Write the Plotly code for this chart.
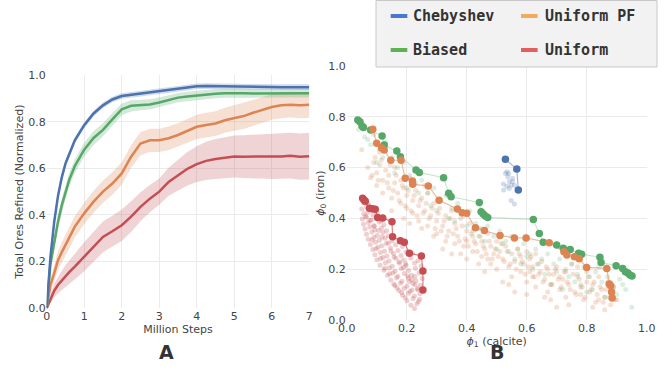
import plotly.graph_objects as go

# ---------------- Panel A data ----------------
steps = [0, 0.1, 0.2, 0.3, 0.4, 0.5, 0.6, 0.75, 1.0, 1.25, 1.5, 1.75, 2.0, 2.25, 2.5, 2.75,
         3.0, 3.25, 3.5, 3.75, 4.0, 4.25, 4.5, 4.75, 5.0, 5.25, 5.5, 5.75, 6.0, 6.25, 6.5, 6.75, 7.0]
cheb = [0, 0.22, 0.37, 0.48, 0.56, 0.62, 0.66, 0.72, 0.785, 0.835, 0.87, 0.895, 0.91, 0.915, 0.92,
        0.925, 0.93, 0.935, 0.94, 0.946, 0.952, 0.953, 0.952, 0.951, 0.95, 0.95, 0.95, 0.949, 0.949,
        0.948, 0.948, 0.948, 0.948]
cheb_sd = [0, 0.02, 0.02, 0.02, 0.018, 0.016, 0.015, 0.014, 0.013, 0.012, 0.012, 0.012, 0.012, 0.012,
           0.012, 0.012, 0.012, 0.012, 0.012, 0.012, 0.012, 0.012, 0.012, 0.012, 0.012, 0.012, 0.012,
           0.012, 0.012, 0.012, 0.012, 0.012, 0.012]
biased = [0, 0.19, 0.28, 0.37, 0.44, 0.50, 0.55, 0.61, 0.68, 0.73, 0.765, 0.81, 0.853, 0.868, 0.872,
          0.874, 0.882, 0.893, 0.903, 0.908, 0.913, 0.917, 0.92, 0.922, 0.923, 0.922, 0.921, 0.921,
          0.922, 0.922, 0.921, 0.921, 0.922]
biased_sd = [0, 0.03, 0.03, 0.03, 0.03, 0.03, 0.03, 0.03, 0.03, 0.03, 0.028, 0.027, 0.025, 0.024, 0.023,
             0.022, 0.022, 0.021, 0.02, 0.02, 0.02, 0.02, 0.02, 0.019, 0.019, 0.019, 0.019, 0.019,
             0.018, 0.018, 0.018, 0.018, 0.018]
unif_pf = [0, 0.10, 0.15, 0.205, 0.24, 0.27, 0.30, 0.35, 0.407, 0.457, 0.50, 0.535, 0.578, 0.65, 0.706,
           0.72, 0.72, 0.729, 0.743, 0.761, 0.778, 0.786, 0.792, 0.806, 0.816, 0.824, 0.838, 0.85,
           0.863, 0.87, 0.873, 0.87, 0.872]
unif_pf_sd = [0, 0.03, 0.035, 0.04, 0.042, 0.044, 0.045, 0.046, 0.046, 0.047, 0.048, 0.048, 0.048, 0.049,
              0.05, 0.05, 0.05, 0.05, 0.05, 0.051, 0.052, 0.052, 0.053, 0.054, 0.055, 0.055, 0.055,
              0.055, 0.055, 0.055, 0.055, 0.055, 0.055]
uniform = [0, 0.04, 0.075, 0.10, 0.12, 0.139, 0.155, 0.179, 0.221, 0.264, 0.306, 0.33, 0.356, 0.393,
           0.435, 0.47, 0.50, 0.542, 0.571, 0.598, 0.618, 0.632, 0.64, 0.647, 0.651, 0.65, 0.65, 0.651,
           0.65, 0.651, 0.654, 0.65, 0.652]
uniform_sd = [0, 0.02, 0.03, 0.035, 0.04, 0.045, 0.05, 0.055, 0.062, 0.065, 0.066, 0.067, 0.068, 0.066,
              0.062, 0.058, 0.056, 0.06, 0.066, 0.072, 0.077, 0.082, 0.086, 0.088, 0.09, 0.092, 0.094,
              0.095, 0.096, 0.097, 0.098, 0.099, 0.1]

# ---------------- Panel B data ----------------
# Pareto fronts (large markers)
cheb_front_x = [0.529, 0.567, 0.572]
cheb_front_y = [0.633, 0.594, 0.512]
biased_front_x = [0.037, 0.044, 0.051, 0.056, 0.080, 0.118, 0.125, 0.167, 0.179, 0.231, 0.242, 0.323,
                  0.340, 0.348, 0.442, 0.448, 0.455, 0.462, 0.470, 0.622, 0.642, 0.655, 0.700, 0.722,
                  0.745, 0.773, 0.783, 0.844, 0.848, 0.898, 0.920, 0.929, 0.937, 0.944, 0.951]
biased_front_y = [0.787, 0.781, 0.764, 0.758, 0.748, 0.724, 0.689, 0.665, 0.643, 0.591, 0.581, 0.560,
                  0.499, 0.485, 0.463, 0.426, 0.417, 0.409, 0.404, 0.396, 0.341, 0.306, 0.295, 0.282,
                  0.278, 0.263, 0.259, 0.247, 0.226, 0.214, 0.203, 0.190, 0.185, 0.177, 0.173]
unifpf_front_x = [0.087, 0.100, 0.116, 0.125, 0.147, 0.181, 0.195, 0.219, 0.220, 0.272, 0.308, 0.369,
                  0.385, 0.400, 0.429, 0.459, 0.511, 0.559, 0.598, 0.675, 0.724, 0.734, 0.759, 0.775,
                  0.800, 0.867, 0.875, 0.880, 0.883, 0.885]
unifpf_front_y = [0.751, 0.696, 0.678, 0.669, 0.629, 0.629, 0.558, 0.547, 0.534, 0.528, 0.471, 0.437,
                  0.422, 0.420, 0.363, 0.352, 0.333, 0.323, 0.323, 0.304, 0.269, 0.256, 0.249, 0.241,
                  0.207, 0.203, 0.142, 0.135, 0.110, 0.087]
unif_front_x = [0.053, 0.058, 0.062, 0.076, 0.086, 0.095, 0.103, 0.120, 0.151, 0.153, 0.179, 0.192,
                0.209, 0.249, 0.254, 0.254]
unif_front_y = [0.479, 0.472, 0.468, 0.440, 0.438, 0.436, 0.404, 0.402, 0.387, 0.328, 0.312, 0.306,
                0.263, 0.252, 0.193, 0.118]

# Sampled policies (faint markers)
cheb_pts_x = [0.534, 0.540, 0.529, 0.537, 0.553, 0.542, 0.522, 0.548, 0.559, 0.534, 0.523, 0.542,
              0.548, 0.559, 0.553]
cheb_pts_y = [0.584, 0.577, 0.577, 0.564, 0.545, 0.545, 0.535, 0.531, 0.531, 0.527, 0.512, 0.518,
              0.470, 0.457, 0.558]
biased_pts_x = [0.04, 0.06, 0.08, 0.09, 0.11, 0.13, 0.15, 0.17, 0.19, 0.21, 0.23, 0.25, 0.27, 0.29,
                0.31, 0.33, 0.35, 0.37, 0.39, 0.41, 0.43, 0.45, 0.47, 0.49, 0.51, 0.53, 0.55, 0.57,
                0.59, 0.61, 0.63, 0.65, 0.67, 0.69, 0.71, 0.73, 0.75, 0.77, 0.79, 0.81, 0.83, 0.85,
                0.87, 0.89, 0.91, 0.93, 0.95, 0.10, 0.20, 0.40, 0.56, 0.62, 0.72, 0.80, 0.86, 0.90,
                0.50, 0.30, 0.46, 0.66, 0.76, 0.84, 0.58, 0.68, 0.07, 0.12, 0.16, 0.24, 0.28, 0.34,
                0.38, 0.44, 0.52, 0.54, 0.60, 0.64, 0.70, 0.74, 0.78, 0.82, 0.88, 0.92, 0.36, 0.42]
biased_pts_y = [0.75, 0.72, 0.69, 0.73, 0.67, 0.70, 0.64, 0.60, 0.62, 0.57, 0.54, 0.55, 0.50, 0.52,
                0.47, 0.49, 0.44, 0.46, 0.41, 0.43, 0.38, 0.36, 0.37, 0.33, 0.35, 0.31, 0.33, 0.28,
                0.30, 0.26, 0.28, 0.24, 0.26, 0.22, 0.24, 0.20, 0.22, 0.18, 0.21, 0.17, 0.19, 0.15,
                0.17, 0.13, 0.16, 0.12, 0.05, 0.62, 0.52, 0.37, 0.24, 0.20, 0.12, 0.11, 0.09, 0.10,
                0.28, 0.43, 0.31, 0.18, 0.15, 0.21, 0.22, 0.14, 0.71, 0.64, 0.58, 0.50, 0.45, 0.40,
                0.42, 0.33, 0.30, 0.27, 0.25, 0.22, 0.19, 0.17, 0.14, 0.12, 0.15, 0.14, 0.39, 0.35]
unifpf_pts_x = [0.07, 0.08, 0.09, 0.10, 0.10, 0.11, 0.12, 0.12, 0.13, 0.14, 0.14, 0.15, 0.16, 0.16,
                0.17, 0.18, 0.18, 0.19, 0.20, 0.20, 0.21, 0.22, 0.22, 0.23, 0.24, 0.24, 0.25, 0.26,
                0.27, 0.27, 0.28, 0.29, 0.30, 0.30, 0.31, 0.32, 0.33, 0.33, 0.34, 0.35, 0.36, 0.36,
                0.37, 0.38, 0.39, 0.40, 0.40, 0.41, 0.42, 0.42, 0.43, 0.44, 0.45, 0.45, 0.46, 0.47,
                0.48, 0.48, 0.49, 0.50, 0.50, 0.51, 0.52, 0.53, 0.54, 0.55, 0.55, 0.56, 0.57, 0.58,
                0.58, 0.59, 0.60, 0.61, 0.61, 0.62, 0.63, 0.64, 0.65, 0.66, 0.67, 0.67, 0.68, 0.69,
                0.70, 0.71, 0.72, 0.73, 0.73, 0.74, 0.75, 0.76, 0.77, 0.78, 0.79, 0.80, 0.80, 0.81,
                0.82, 0.83, 0.84, 0.85, 0.86, 0.87, 0.88, 0.88, 0.89, 0.90, 0.05, 0.11, 0.26, 0.35,
                0.52, 0.68, 0.29, 0.44, 0.56, 0.60, 0.21, 0.15, 0.60, 0.66, 0.74, 0.82, 0.70, 0.86,
                0.78, 0.62, 0.54, 0.46, 0.38, 0.32, 0.40, 0.47, 0.63, 0.71, 0.77, 0.84, 0.25, 0.19,
                0.085, 0.095, 0.105, 0.115, 0.135, 0.145, 0.155, 0.165, 0.175, 0.185, 0.195, 0.205,
                0.215, 0.225, 0.235, 0.245, 0.255, 0.265, 0.275, 0.285, 0.295, 0.305, 0.315, 0.325,
                0.335, 0.345, 0.355, 0.365, 0.375, 0.385, 0.395, 0.405, 0.415, 0.425, 0.435, 0.445,
                0.455, 0.465, 0.475, 0.485, 0.495, 0.505, 0.515, 0.525, 0.535, 0.545, 0.565, 0.575,
                0.585, 0.595, 0.605, 0.615, 0.625, 0.635, 0.645, 0.655, 0.665, 0.675, 0.685, 0.695,
                0.705, 0.715, 0.725, 0.735, 0.745, 0.755, 0.765, 0.775, 0.785, 0.795, 0.805, 0.815,
                0.825, 0.835, 0.845, 0.855, 0.865, 0.875, 0.885, 0.895]
unifpf_pts_y = [0.60, 0.56, 0.62, 0.58, 0.53, 0.61, 0.55, 0.50, 0.59, 0.52, 0.57, 0.48, 0.54, 0.60,
                0.50, 0.46, 0.55, 0.52, 0.44, 0.49, 0.56, 0.47, 0.42, 0.51, 0.45, 0.39, 0.48, 0.43,
                0.50, 0.37, 0.41, 0.46, 0.39, 0.34, 0.44, 0.37, 0.41, 0.31, 0.35, 0.43, 0.38, 0.30,
                0.33, 0.40, 0.29, 0.35, 0.31, 0.38, 0.27, 0.33, 0.30, 0.36, 0.25, 0.31, 0.28, 0.34,
                0.22, 0.29, 0.26, 0.31, 0.20, 0.27, 0.24, 0.29, 0.21, 0.26, 0.17, 0.23, 0.28, 0.19,
                0.25, 0.22, 0.15, 0.24, 0.19, 0.21, 0.13, 0.18, 0.23, 0.16, 0.20, 0.11, 0.14, 0.18,
                0.21, 0.12, 0.16, 0.09, 0.19, 0.14, 0.22, 0.11, 0.17, 0.13, 0.08, 0.15, 0.19, 0.11,
                0.14, 0.07, 0.17, 0.12, 0.09, 0.15, 0.06, 0.11, 0.13, 0.08, 0.67, 0.66, 0.53, 0.26,
                0.15, 0.08, 0.33, 0.22, 0.11, 0.27, 0.38, 0.43, 0.10, 0.09, 0.06, 0.05, 0.05, 0.04,
                0.10, 0.17, 0.14, 0.19, 0.26, 0.28, 0.24, 0.24, 0.26, 0.17, 0.21, 0.08, 0.36, 0.40,
                0.57, 0.64, 0.55, 0.63, 0.54, 0.61, 0.51, 0.57, 0.47, 0.53, 0.45, 0.51, 0.43, 0.49,
                0.41, 0.47, 0.42, 0.46, 0.40, 0.44, 0.36, 0.42, 0.35, 0.39, 0.33, 0.40, 0.34, 0.36,
                0.31, 0.37, 0.32, 0.29, 0.34, 0.31, 0.27, 0.33, 0.29, 0.26, 0.31, 0.24, 0.28, 0.25,
                0.30, 0.23, 0.27, 0.22, 0.20, 0.26, 0.23, 0.18, 0.21, 0.25, 0.17, 0.22, 0.19, 0.15,
                0.21, 0.18, 0.14, 0.20, 0.16, 0.13, 0.19, 0.15, 0.12, 0.18, 0.10, 0.16, 0.13, 0.09,
                0.17, 0.12, 0.15, 0.10, 0.13, 0.07, 0.12, 0.09, 0.10, 0.08]
unif_pts_x = [0.055, 0.072, 0.050, 0.066, 0.081, 0.057, 0.071, 0.088, 0.101, 0.052, 0.066, 0.082,
              0.099, 0.114, 0.056, 0.072, 0.091, 0.108, 0.124, 0.061, 0.077, 0.094, 0.116, 0.133,
              0.066, 0.084, 0.102, 0.121, 0.139, 0.072, 0.091, 0.109, 0.128, 0.151, 0.079, 0.096,
              0.117, 0.139, 0.163, 0.186, 0.087, 0.104, 0.126, 0.146, 0.171, 0.198, 0.094, 0.112,
              0.134, 0.156, 0.181, 0.219, 0.101, 0.121, 0.141, 0.164, 0.189, 0.214, 0.238, 0.111,
              0.129, 0.152, 0.176, 0.198, 0.226, 0.248, 0.124, 0.142, 0.161, 0.182, 0.206, 0.229,
              0.251, 0.136, 0.154, 0.171, 0.192, 0.216, 0.241, 0.147, 0.166, 0.184, 0.206, 0.231,
              0.252, 0.161, 0.179, 0.201, 0.221, 0.246, 0.174, 0.191, 0.211, 0.236, 0.186, 0.206,
              0.226, 0.244, 0.201, 0.221, 0.239, 0.214, 0.234, 0.226,
              0.063, 0.078, 0.092, 0.107, 0.085, 0.118, 0.132, 0.098, 0.147, 0.158, 0.113, 0.174,
              0.127, 0.189, 0.143, 0.203, 0.157, 0.217, 0.168, 0.228, 0.183, 0.237, 0.195, 0.243,
              0.209, 0.227, 0.218, 0.196]
unif_pts_y = [0.462, 0.455, 0.437, 0.446, 0.432, 0.418, 0.424, 0.413, 0.421, 0.398, 0.405, 0.394,
              0.402, 0.391, 0.377, 0.384, 0.372, 0.386, 0.375, 0.358, 0.366, 0.354, 0.362, 0.351,
              0.338, 0.346, 0.333, 0.344, 0.332, 0.318, 0.326, 0.314, 0.322, 0.311, 0.297, 0.306,
              0.292, 0.303, 0.296, 0.289, 0.278, 0.286, 0.271, 0.283, 0.274, 0.268, 0.257, 0.266,
              0.252, 0.262, 0.254, 0.263, 0.237, 0.246, 0.232, 0.243, 0.236, 0.244, 0.233, 0.216,
              0.225, 0.212, 0.223, 0.215, 0.224, 0.213, 0.196, 0.205, 0.192, 0.203, 0.195, 0.204,
              0.193, 0.176, 0.185, 0.172, 0.183, 0.176, 0.185, 0.157, 0.166, 0.153, 0.164, 0.155,
              0.163, 0.136, 0.145, 0.133, 0.144, 0.137, 0.116, 0.125, 0.113, 0.124, 0.097, 0.105,
              0.094, 0.103, 0.076, 0.085, 0.073, 0.058, 0.064, 0.045,
              0.408, 0.392, 0.368, 0.352, 0.316, 0.327, 0.301, 0.281, 0.272, 0.248, 0.242, 0.229,
              0.205, 0.207, 0.182, 0.173, 0.141, 0.158, 0.126, 0.139, 0.108, 0.119, 0.088, 0.082,
              0.152, 0.171, 0.118, 0.221]

# ---------------- colours ----------------
C_BLUE, C_ORANGE, C_GREEN, C_RED = "#4c72b0", "#dd8452", "#55a868", "#c44e52"
series_a = [
    ("Uniform", uniform, uniform_sd, C_RED, "rgba(196,78,82,0.25)"),
    ("Uniform PF", unif_pf, unif_pf_sd, C_ORANGE, "rgba(221,132,82,0.25)"),
    ("Biased", biased, biased_sd, C_GREEN, "rgba(85,168,104,0.25)"),
    ("Chebyshev", cheb, cheb_sd, C_BLUE, "rgba(76,114,176,0.25)"),
]

fig = go.Figure()

for name, m, sd, col, fill in series_a:
    up = [min(a + b, 1.0) for a, b in zip(m, sd)]
    lo = [max(a - b, 0.0) for a, b in zip(m, sd)]
    fig.add_trace(go.Scatter(x=steps + steps[::-1], y=up + lo[::-1], fill="toself",
                             fillcolor=fill, line=dict(width=0), mode="lines",
                             hoverinfo="skip", showlegend=False, xaxis="x", yaxis="y"))
for name, m, sd, col, fill in series_a:
    fig.add_trace(go.Scatter(x=steps, y=m, mode="lines", line=dict(color=col, width=2.5),
                             name=name, showlegend=False, xaxis="x", yaxis="y"))

# Panel B: faint clouds
clouds = [
    (unifpf_pts_x, unifpf_pts_y, "rgba(221,132,82,0.25)"),
    (biased_pts_x, biased_pts_y, "rgba(85,168,104,0.2)"),
    (unif_pts_x, unif_pts_y, "rgba(196,78,82,0.27)"),
    (cheb_pts_x, cheb_pts_y, "rgba(76,114,176,0.25)"),
]
for xs, ys, col in clouds:
    fig.add_trace(go.Scatter(x=xs, y=ys, mode="markers", marker=dict(size=5, color=col),
                             showlegend=False, xaxis="x2", yaxis="y2"))

fronts = [
    (biased_front_x, biased_front_y, C_GREEN, "rgba(85,168,104,0.3)"),
    (unifpf_front_x, unifpf_front_y, C_ORANGE, "rgba(221,132,82,0.55)"),
    (unif_front_x, unif_front_y, C_RED, "rgba(196,78,82,0.7)"),
    (cheb_front_x, cheb_front_y, C_BLUE, "rgba(76,114,176,0.5)"),
]
for xs, ys, col, lcol in fronts:
    fig.add_trace(go.Scatter(x=xs, y=ys, mode="lines", line=dict(color=lcol, width=1.2),
                             showlegend=False, xaxis="x2", yaxis="y2"))
for xs, ys, col, lcol in fronts:
    fig.add_trace(go.Scatter(x=xs, y=ys, mode="markers", marker=dict(size=7.5, color=col),
                             showlegend=False, xaxis="x2", yaxis="y2"))

W, H = 672, 372
def px(x):
    return x / W
def py(y):
    return 1 - y / H

tickfont = dict(family="DejaVu Sans", size=11, color="#444444")
titlefont = dict(family="DejaVu Sans", size=11, color="#444444")
axis_common = dict(showgrid=True, gridcolor="#ebebeb", gridwidth=1, zeroline=False,
                   showline=False, ticks="", tickfont=tickfont, automargin=False)

fig.update_layout(
    width=W, height=H, margin=dict(l=0, r=0, t=0, b=0, pad=0, autoexpand=False),
    paper_bgcolor="white", plot_bgcolor="white", showlegend=False,
    xaxis=dict(domain=[px(46.7), px(309.3)], range=[0, 7], dtick=1, anchor="y",
               title=dict(text="Million Steps", font=titlefont, standoff=2), **axis_common),
    yaxis=dict(domain=[py(308.3), py(75)], range=[0, 1], dtick=0.2, tickformat=".1f", anchor="x",
               title=dict(text="Total Ores Refined (Normalized)", font=titlefont, standoff=2),
               **axis_common),
    xaxis2=dict(domain=[px(346.7), px(646.7)], range=[0, 1], dtick=0.2, tickformat=".1f",
                anchor="y2", title=dict(text="<i>ϕ</i><sub>1</sub> (calcite)", font=titlefont,
                                        standoff=2), **axis_common),
    yaxis2=dict(domain=[py(320), py(66)], range=[0, 1], dtick=0.2, tickformat=".1f", anchor="x2",
                title=dict(text="<i>ϕ</i><sub>0</sub> (iron)", font=titlefont, standoff=0),
                **axis_common),
)

# Panel labels
for label, xc in (("A", 166), ("B", 497)):
    fig.add_annotation(text="<b>%s</b>" % label, x=px(xc), y=py(352), xref="paper", yref="paper",
                       showarrow=False, font=dict(family="DejaVu Sans", size=19, color="#333333"),
                       xanchor="center", yanchor="middle")

# Legend box
legend_items = [
    ("Chebyshev", "#4878d0", 390.7, 411, 16),
    ("Biased", "#5fb050", 390.7, 411, 50),
    ("Uniform PF", "#f5a860", 521, 543, 16),
    ("Uniform", "#e06060", 521, 543, 50),
]
fig.add_shape(type="rect", xref="paper", yref="paper", x0=px(376), x1=px(657), y0=py(67), y1=py(0.5),
              fillcolor="#f2f2f2", line=dict(color="#c8c8c8", width=1), layer="above")
for text, col, sx, tx, yc in legend_items:
    fig.add_shape(type="rect", xref="paper", yref="paper", x0=px(sx), x1=px(sx + 16.6),
                  y0=py(yc + 2), y1=py(yc - 2), fillcolor=col, line=dict(width=0), layer="above")
    fig.add_annotation(text="<b>%s</b>" % text, x=px(tx), y=py(yc), xref="paper", yref="paper",
                       showarrow=False, xanchor="left", yanchor="middle",
                       font=dict(family="DejaVu Sans Mono", size=15, color="#333333"))

fig.write_html("out.html", config={"displayModeBar": False},
               post_script="document.body.style.margin='0px';")
